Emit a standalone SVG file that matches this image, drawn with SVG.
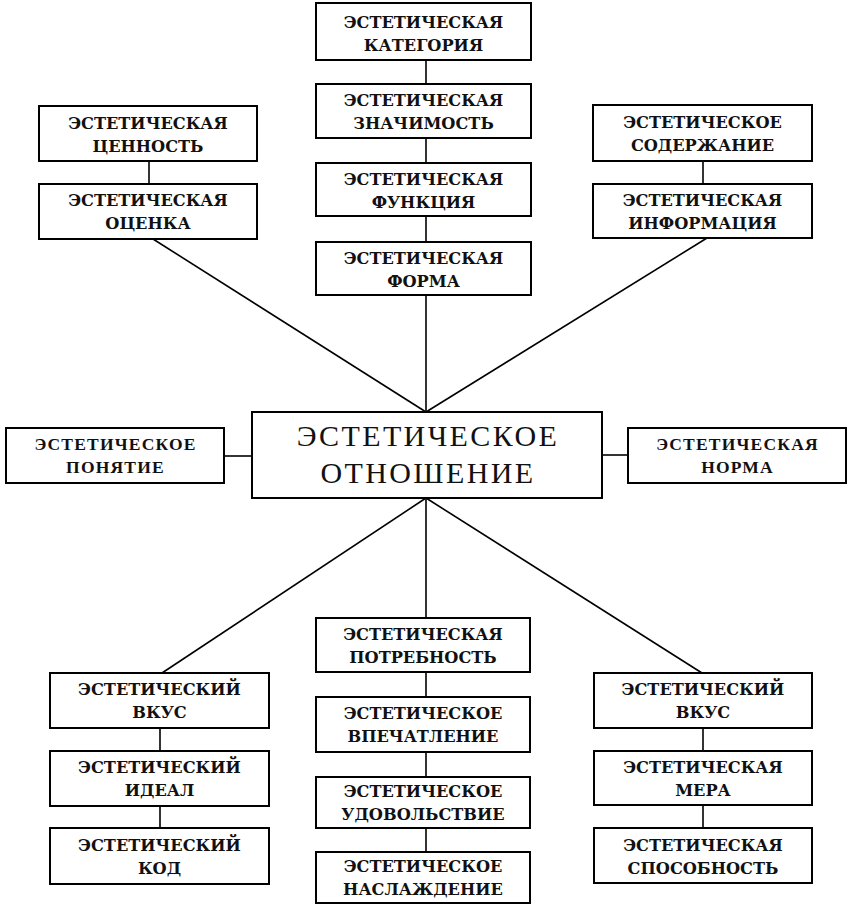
<svg xmlns="http://www.w3.org/2000/svg" width="848" height="904" viewBox="0 0 848 904">
<style>
  .box { fill: #fff; stroke: #000; stroke-width: 2; }
  .ln { stroke: #000; stroke-width: 1.6; fill: none; }
  .t { font-family: "DejaVu Serif", "Liberation Serif", serif; font-size: 16.2px; font-weight: bold; text-anchor: middle; fill: #111; }
  .s { font-family: "Liberation Serif", "DejaVu Serif", serif; font-size: 17.5px; font-weight: bold; letter-spacing: 1.2px; text-anchor: middle; fill: #111; }
  .c { font-family: "Liberation Serif", "DejaVu Serif", serif; font-size: 30px; letter-spacing: 2.4px; text-anchor: middle; fill: #111; }
</style>
<rect width="848" height="904" fill="#fff"/>
<g id="connectors">
  <line class="ln" x1="426" y1="60" x2="426" y2="84"/>
  <line class="ln" x1="426" y1="138" x2="426" y2="163"/>
  <line class="ln" x1="426" y1="216" x2="426" y2="242"/>
  <line class="ln" x1="426" y1="295" x2="426" y2="412"/>
  <line class="ln" x1="149" y1="161" x2="149" y2="184"/>
  <line class="ln" x1="153" y1="239" x2="426" y2="412"/>
  <line class="ln" x1="703" y1="161" x2="703" y2="184"/>
  <line class="ln" x1="707" y1="238" x2="426" y2="412"/>
  <line class="ln" x1="224" y1="456" x2="252" y2="456"/>
  <line class="ln" x1="602" y1="455" x2="628" y2="455"/>
  <line class="ln" x1="426" y1="498" x2="162" y2="673"/>
  <line class="ln" x1="426" y1="498" x2="702" y2="673"/>
  <line class="ln" x1="426" y1="498" x2="426" y2="618"/>
  <line class="ln" x1="160" y1="728" x2="160" y2="751"/>
  <line class="ln" x1="160" y1="806" x2="160" y2="828"/>
  <line class="ln" x1="426" y1="672" x2="426" y2="697"/>
  <line class="ln" x1="426" y1="752" x2="426" y2="777"/>
  <line class="ln" x1="426" y1="828" x2="426" y2="852"/>
  <line class="ln" x1="703" y1="728" x2="703" y2="751"/>
  <line class="ln" x1="703" y1="805" x2="703" y2="828"/>
</g>
<g id="kategoriya"><rect class="box" x="316" y="3" width="215" height="57"/><text class="t" x="423.5" y="28">ЭСТЕТИЧЕСКАЯ<tspan x="423.5" y="51">КАТЕГОРИЯ</tspan></text></g>
<g id="znachimost"><rect class="box" x="316" y="84" width="215" height="54"/><text class="t" x="423.5" y="106">ЭСТЕТИЧЕСКАЯ<tspan x="423.5" y="129">ЗНАЧИМОСТЬ</tspan></text></g>
<g id="funktsiya"><rect class="box" x="316" y="163" width="215" height="53"/><text class="t" x="423.5" y="185">ЭСТЕТИЧЕСКАЯ<tspan x="423.5" y="208">ФУНКЦИЯ</tspan></text></g>
<g id="forma"><rect class="box" x="316" y="242" width="215" height="53"/><text class="t" x="423.5" y="264">ЭСТЕТИЧЕСКАЯ<tspan x="423.5" y="287">ФОРМА</tspan></text></g>
<g id="tsennost"><rect class="box" x="39" y="106" width="218" height="55"/><text class="t" x="148" y="129">ЭСТЕТИЧЕСКАЯ<tspan x="148" y="152">ЦЕННОСТЬ</tspan></text></g>
<g id="otsenka"><rect class="box" x="39" y="184" width="218" height="55"/><text class="t" x="148" y="206">ЭСТЕТИЧЕСКАЯ<tspan x="148" y="229">ОЦЕНКА</tspan></text></g>
<g id="soderzhanie"><rect class="box" x="593" y="105" width="219" height="56"/><text class="t" x="702.5" y="128">ЭСТЕТИЧЕСКОЕ<tspan x="702.5" y="151">СОДЕРЖАНИЕ</tspan></text></g>
<g id="informatsiya"><rect class="box" x="593" y="184" width="219" height="54"/><text class="t" x="702.5" y="206">ЭСТЕТИЧЕСКАЯ<tspan x="702.5" y="229">ИНФОРМАЦИЯ</tspan></text></g>
<g id="ponyatie"><rect class="box" x="6" y="428" width="218" height="55"/><text class="s" x="115.5" y="450">ЭСТЕТИЧЕСКОЕ<tspan x="115.5" y="473">ПОНЯТИЕ</tspan></text></g>
<g id="otnoshenie"><rect class="box" x="252" y="412" width="350" height="86"/><text class="c" x="428" y="446">ЭСТЕТИЧЕСКОЕ<tspan x="428" y="483">ОТНОШЕНИЕ</tspan></text></g>
<g id="norma"><rect class="box" x="628" y="428" width="218" height="55"/><text class="s" x="737.5" y="450">ЭСТЕТИЧЕСКАЯ<tspan x="737.5" y="473">НОРМА</tspan></text></g>
<g id="vkus-left"><rect class="box" x="50" y="673" width="219" height="55"/><text class="t" x="159.5" y="695">ЭСТЕТИЧЕСКИЙ<tspan x="159.5" y="718">ВКУС</tspan></text></g>
<g id="ideal"><rect class="box" x="50" y="751" width="219" height="55"/><text class="t" x="159.5" y="773">ЭСТЕТИЧЕСКИЙ<tspan x="159.5" y="796">ИДЕАЛ</tspan></text></g>
<g id="kod"><rect class="box" x="50" y="828" width="219" height="56"/><text class="t" x="159.5" y="851">ЭСТЕТИЧЕСКИЙ<tspan x="159.5" y="874">КОД</tspan></text></g>
<g id="potrebnost"><rect class="box" x="316" y="618" width="214" height="54"/><text class="t" x="423" y="640">ЭСТЕТИЧЕСКАЯ<tspan x="423" y="663">ПОТРЕБНОСТЬ</tspan></text></g>
<g id="vpechatlenie"><rect class="box" x="316" y="697" width="214" height="55"/><text class="t" x="423" y="719">ЭСТЕТИЧЕСКОЕ<tspan x="423" y="742">ВПЕЧАТЛЕНИЕ</tspan></text></g>
<g id="udovolstvie"><rect class="box" x="316" y="777" width="214" height="51"/><text class="t" x="423" y="797">ЭСТЕТИЧЕСКОЕ<tspan x="423" y="820">УДОВОЛЬСТВИЕ</tspan></text></g>
<g id="naslazhdenie"><rect class="box" x="316" y="852" width="214" height="51"/><text class="t" x="423" y="872">ЭСТЕТИЧЕСКОЕ<tspan x="423" y="895">НАСЛАЖДЕНИЕ</tspan></text></g>
<g id="vkus-right"><rect class="box" x="594" y="673" width="218" height="55"/><text class="t" x="703" y="695">ЭСТЕТИЧЕСКИЙ<tspan x="703" y="718">ВКУС</tspan></text></g>
<g id="mera"><rect class="box" x="594" y="751" width="218" height="54"/><text class="t" x="703" y="773">ЭСТЕТИЧЕСКАЯ<tspan x="703" y="796">МЕРА</tspan></text></g>
<g id="sposobnost"><rect class="box" x="594" y="828" width="218" height="55"/><text class="t" x="703" y="851">ЭСТЕТИЧЕСКАЯ<tspan x="703" y="874">СПОСОБНОСТЬ</tspan></text></g>
</svg>
